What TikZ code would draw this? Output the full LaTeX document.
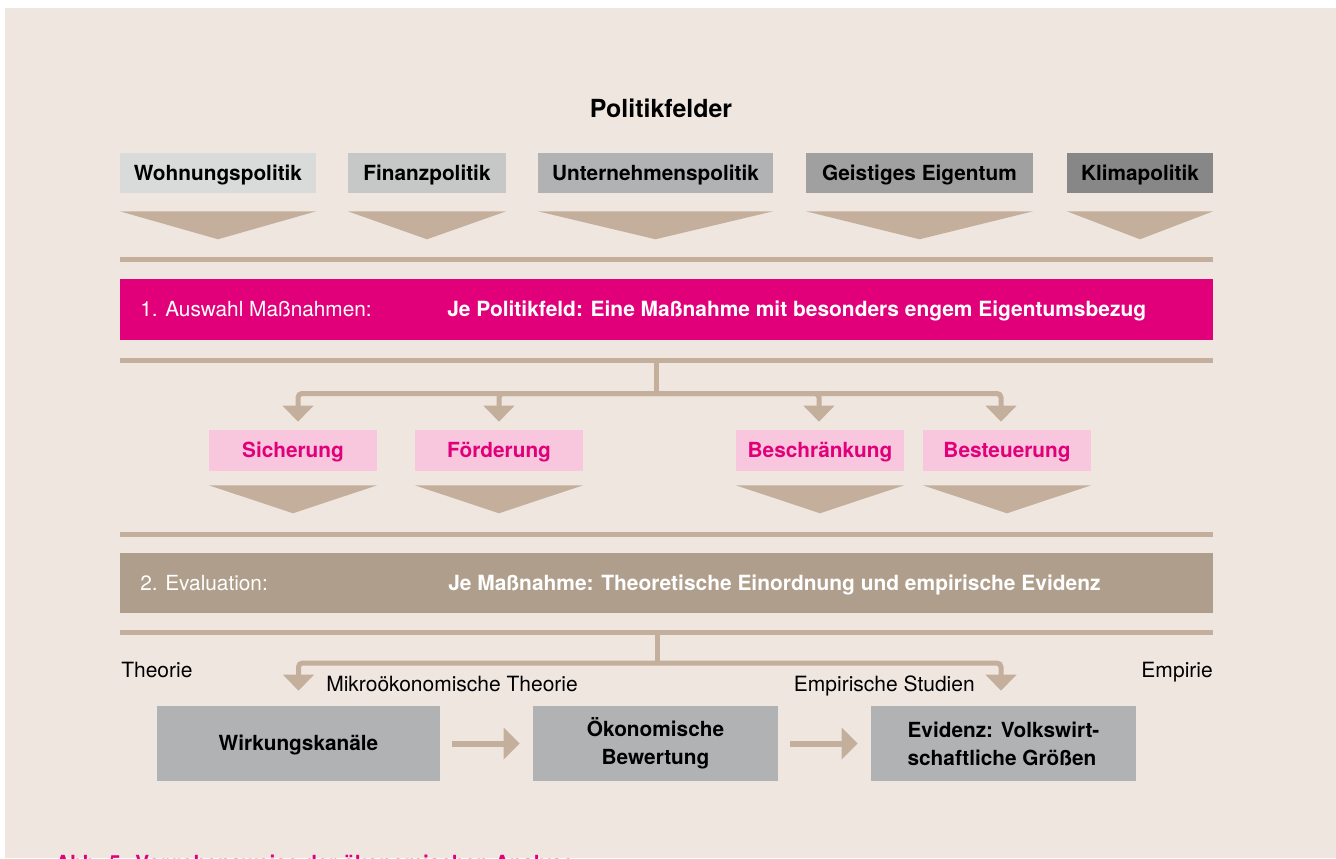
\documentclass[tikz,border=0pt]{standalone}
\usepackage{fontspec}
\setmainfont{TeX Gyre Heros}
\usetikzlibrary{arrows.meta,calc}

\definecolor{hintergrund}{HTML}{EFE6E0}
\definecolor{sand}{HTML}{C4AF9C}
\definecolor{pinkrot}{HTML}{E2007A}
\definecolor{rosa}{HTML}{F8C6DD}
\definecolor{taupe}{HTML}{AF9E8B}
\definecolor{grauA}{HTML}{D9DADA}
\definecolor{grauB}{HTML}{C6C7C7}
\definecolor{grauC}{HTML}{B1B2B4}
\definecolor{grauD}{HTML}{A0A0A0}
\definecolor{grauE}{HTML}{878787}

\begin{document}
\begin{tikzpicture}[
    x=0.75pt, y=-0.75pt,
    % Felder und Kaesten
    feld/.style={rectangle, inner sep=0pt, minimum height=30pt, text height=11.2pt, text depth=0pt,
                 font=\bfseries\fontsize{15.6}{18}\selectfont},
    kat/.style={feld, fill=rosa, text=pinkrot, minimum width=126pt, minimum height=30.75pt},
    schritt/.style={rectangle, fill=grauC, inner sep=0pt, minimum height=56.25pt, align=center,
                    font=\bfseries\fontsize{15.6}{21}\selectfont},
    % Balken und Baender
    balken/.style={rectangle, fill=sand, inner sep=0pt, minimum width=819.75pt, minimum height=3.75pt},
    band/.style={rectangle, inner sep=0pt, minimum width=819.75pt},
    bandtext/.style={anchor=base west, inner sep=0pt, text=white, font=\fontsize{15.6}{18}\selectfont},
    notiz/.style={inner sep=0pt, font=\fontsize{15.75}{18}\selectfont},
    % Pfeile
    stamm/.style={draw=sand, line width=3.75pt},
    ast/.style={draw=sand, line width=3.75pt, rounded corners=3pt, -{Triangle[width=22.5pt,length=12pt]}},
    pfeil/.style={draw=sand, line width=4.5pt, -{Triangle[width=23.25pt,length=12pt]},
                  shorten <=9pt, shorten >=9.75pt}
]

\useasboundingbox (0,0) rectangle (1336,858);
\clip (0,0) rectangle (1336,858);
\fill[white] (0,0) rectangle (1336,858);
\fill[hintergrund] (5,8) rectangle (1336,858);

% ==========================================
% POLITIKFELDER
% ==========================================
\node[inner sep=0pt, anchor=base, font=\bfseries\fontsize{18.7}{22}\selectfont] (titel) at (661, 117) {Politikfelder};

\node[feld, fill=grauA, minimum width=147pt] (wohn) at (218, 173) {Wohnungspolitik};
\node[feld, fill=grauB, minimum width=118.5pt] (fin) at (427, 173) {Finanzpolitik};
\node[feld, fill=grauC, minimum width=176.25pt] (unt) at (655.5, 173) {Unternehmenspolitik};
\node[feld, fill=grauD, minimum width=170.25pt] (geist) at (919.5, 173) {Geistiges Eigentum};
\node[feld, fill=grauE, minimum width=109.5pt] (klima) at (1140, 173) {Klimapolitik};

% Keile unter den Feldern
\foreach \f in {wohn,fin,unt,geist,klima}
  \fill[sand] ($(\f.south west)+(0,18)$) -- ($(\f.south east)+(0,18)$) -- ($(\f.south)+(0,46)$) -- cycle;

\node[balken] (bar1) at (666.5, 259.5) {};

% ==========================================
% 1. AUSWAHL MASSNAHMEN
% ==========================================
\node[band, fill=pinkrot, minimum height=45.75pt] (auswahl) at (666.5, 309.5) {};
\node[bandtext] (auswahlA) at (140, 316.7) {1. Auswahl Maßnahmen:};
\node[bandtext, font=\bfseries\fontsize{15.7}{18}\selectfont] (auswahlB) at (447, 316.7)
  {Je Politikfeld: Eine Maßnahme mit besonders engem Eigentumsbezug};

\node[balken] (bar2) at (666.5, 360) {};

% Kategorien
\node[kat] (sich) at (293, 450.5) {Sicherung};
\node[kat] (foerd) at (499, 450.5) {Förderung};
\node[kat] (beschr) at (820, 450.5) {Beschränkung};
\node[kat] (besteu) at (1007, 450.5) {Besteuerung};

% Verzweigung
\coordinate (j1) at (656, 393.5);
\draw[stamm] (bar2.south -| j1) -- (j1);
\draw[ast] (j1) -| ([xshift=3.75pt, yshift=6pt]sich.north);
\draw[ast] (j1) -| ([yshift=6pt]foerd.north);
\draw[ast] (j1) -| ([xshift=-0.75pt, yshift=6pt]beschr.north);
\draw[ast] (j1) -| ([xshift=-4.5pt, yshift=6pt]besteu.north);

% Keile unter den Kategorien
\foreach \k in {sich,foerd,beschr,besteu}
  \fill[sand] ($(\k.south west)+(0,14)$) -- ($(\k.south east)+(0,14)$) -- ($(\k.south)+(0,42)$) -- cycle;

\node[balken] (bar3) at (666.5, 534) {};

% ==========================================
% 2. EVALUATION
% ==========================================
\node[band, fill=taupe, minimum height=45pt] (eval) at (666.5, 583) {};
\node[bandtext] (evalA) at (140, 590.7) {2. Evaluation:};
\node[bandtext, font=\bfseries\fontsize{15.7}{18}\selectfont] (evalB) at (448, 590.7)
  {Je Maßnahme: Theoretische Einordnung und empirische Evidenz};

\node[balken] (bar4) at (666.5, 632.7) {};

% Theorie und Empirie
\node[notiz, anchor=base west] (theorie) at (121, 677) {Theorie};
\node[notiz, anchor=base east] (empirie) at (1213, 677) {Empirie};
\node[notiz, anchor=base west] (mikro) at (326, 691) {Mikroökonomische Theorie};
\node[notiz, anchor=base east] (studien) at (975, 691) {Empirische Studien};

% Schritte
\node[schritt, minimum width=212.25pt, text height=11.2pt, text depth=0pt] (wirk) at (298.5, 743.5) {Wirkungskanäle};
\node[schritt, minimum width=183.75pt] (oek) at (655.5, 743.5) {Ökonomische\\Bewertung};
\node[schritt, minimum width=198.75pt, align=left] (evid) at (1003.5, 743.5) {Evidenz: Volkswirt-\\schaftliche Größen};

\coordinate (j2) at (657, 663);
\draw[stamm] (bar4.south -| j2) -- (j2);
\draw[ast] (j2) -| ([yshift=11.25pt]wirk.north);
\draw[ast] (j2) -| ([xshift=-1.875pt, yshift=11.25pt]evid.north);

\draw[pfeil] (wirk) -- (oek);
\draw[pfeil] (oek) -- (evid);

% Bildunterschrift (am Rand abgeschnitten)
\node[inner sep=0pt, anchor=base west, text=pinkrot, font=\bfseries\fontsize{15.6}{18}\selectfont] (caption) at (55, 870)
  {Abb. 5: Vorgehensweise der ökonomischen Analyse};

\end{tikzpicture}
\end{document}
